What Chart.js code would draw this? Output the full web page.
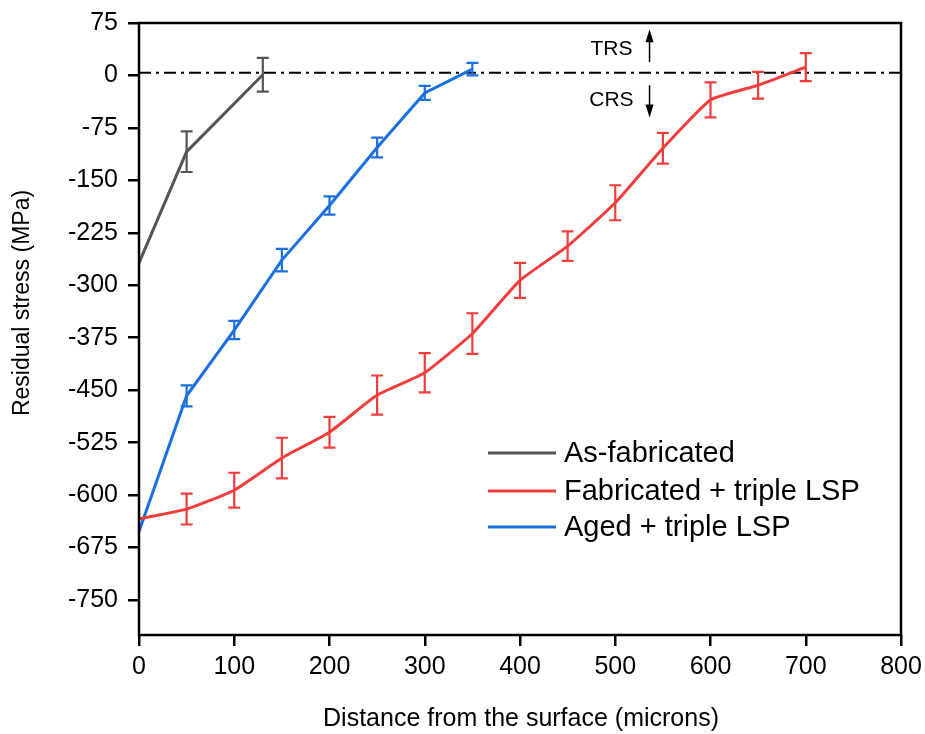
<!DOCTYPE html>
<html>
<head>
<meta charset="utf-8">
<script src="https://cdn.jsdelivr.net/npm/chart.js@4/dist/chart.umd.min.js"></script>
<style>
  html, body { margin: 0; background: #fff; }
  #wrap { width: 925px; height: 734px; }
</style>
</head>
<body>
<div id="wrap"><canvas id="c" width="925" height="734"></canvas></div>
<script>
// tick labels
const X_TICKS = [0, 100, 200, 300, 400, 500, 600, 700, 800]
const Y_TICKS = [75, 0, -75, -150, -225, -300, -375, -450, -525, -600, -675, -750]

// As-fabricated
const depthAsFab  = [0, 50, 130]
const stressAsFab = [-268, -109, 1]
const errAsFab    = [0, 29, 24]

// Fabricated + triple LSP
const depthFabLsp  = [0, 50, 100, 150, 200, 250, 300, 350, 400, 450, 500, 550, 600, 650, 700]
const stressFabLsp = [-634, -620, -593, -547, -510, -457, -425, -369, -293, -244, -182, -104, -35, -14, 12]
const errFabLsp    = [0, 22, 25, 29, 22, 28, 28, 29, 25, 21, 25, 22, 25, 19, 20]

// Aged + triple LSP
const depthAgedLsp  = [0, 50, 100, 150, 200, 250, 300, 350]
const stressAgedLsp = [-652, -458, -364, -264, -186, -103, -25, 9]
const errAgedLsp    = [0, 15, 13, 16, 13, 14, 10, 9]

const ZERO_LINE = 4

const FONT = 'Arial, "Liberation Sans", sans-serif'
const GRAY = '#555555'
const RED  = '#f23d3d'
const BLUE = '#1b6fe0'

const toPoints = (xs, ys) => xs.map((x, i) => ({ x, y: ys[i] }))

const series = [
  { label: 'As-fabricated',           color: GRAY, x: depthAsFab,   y: stressAsFab,   err: errAsFab,   tension: 0 },
  { label: 'Fabricated + triple LSP', color: RED,  x: depthFabLsp,  y: stressFabLsp,  err: errFabLsp,  tension: 0.15 },
  { label: 'Aged + triple LSP',       color: BLUE, x: depthAgedLsp, y: stressAgedLsp, err: errAgedLsp, tension: 0 },
]

// error bars, zero line, frame, annotations, titles, legend
const decor = {
  id: 'decor',
  beforeDatasetsDraw(chart) {
    const { ctx, chartArea: a, scales: { y } } = chart
    const yy = y.getPixelForValue(ZERO_LINE)
    ctx.save()
    ctx.strokeStyle = '#000'
    ctx.lineWidth = 2
    ctx.setLineDash([12, 5, 3, 5])
    ctx.beginPath()
    ctx.moveTo(a.left, yy)
    ctx.lineTo(a.right, yy)
    ctx.stroke()
    ctx.restore()
  },
  afterDatasetsDraw(chart) {
    const { ctx, scales: { x, y } } = chart
    ctx.save()
    series.forEach(s => {
      ctx.strokeStyle = s.color
      ctx.lineWidth = 2.2
      s.x.forEach((v, i) => {
        const e = s.err[i]
        if (!e) return
        const px = x.getPixelForValue(v)
        const top = y.getPixelForValue(s.y[i] + e)
        const bot = y.getPixelForValue(s.y[i] - e)
        ctx.beginPath()
        ctx.moveTo(px, top); ctx.lineTo(px, bot)
        ctx.moveTo(px - 6, top); ctx.lineTo(px + 6, top)
        ctx.moveTo(px - 6, bot); ctx.lineTo(px + 6, bot)
        ctx.stroke()
      })
    })
    ctx.restore()
  },
  afterDraw(chart) {
    const { ctx, chartArea: a, scales: { x, y } } = chart
    ctx.save()

    // frame
    ctx.strokeStyle = '#000'
    ctx.lineWidth = 2.5
    ctx.strokeRect(a.left, a.top, a.right - a.left, a.bottom - a.top)

    // TRS / CRS
    ctx.fillStyle = '#000'
    ctx.font = '21px ' + FONT
    ctx.textAlign = 'center'
    ctx.textBaseline = 'middle'
    ctx.fillText('TRS', x.getPixelForValue(496), y.getPixelForValue(37))
    ctx.fillText('CRS', x.getPixelForValue(496), y.getPixelForValue(-35))

    const arrow = (xv, fromV, toV) => {
      const ax = x.getPixelForValue(xv)
      const y0 = y.getPixelForValue(fromV)
      const y1 = y.getPixelForValue(toV)
      const dir = y1 < y0 ? 1 : -1
      ctx.lineWidth = 1.5
      ctx.beginPath()
      ctx.moveTo(ax, y0); ctx.lineTo(ax, y1 + dir * 10)
      ctx.stroke()
      ctx.beginPath()
      ctx.moveTo(ax, y1)
      ctx.lineTo(ax - 4, y1 + dir * 13)
      ctx.lineTo(ax + 4, y1 + dir * 13)
      ctx.closePath()
      ctx.fill()
    }
    arrow(536, 19, 66)
    arrow(536, -14, -60)

    // axis titles
    ctx.font = '25px ' + FONT
    ctx.fillText('Distance from the surface (microns)', (a.left + a.right) / 2 + 1, 719)
    ctx.save()
    ctx.translate(23, 303)
    ctx.rotate(-Math.PI / 2)
    ctx.font = '23px ' + FONT
    ctx.fillText('Residual stress (MPa)', 0, 0)
    ctx.restore()

    // legend
    ctx.font = '29px ' + FONT
    ctx.textAlign = 'left'
    const rows = [453, 491, 527]
    series.forEach((s, i) => {
      ctx.strokeStyle = s.color
      ctx.lineWidth = 3
      ctx.beginPath()
      ctx.moveTo(488, rows[i]); ctx.lineTo(556, rows[i])
      ctx.stroke()
      ctx.fillStyle = '#000'
      ctx.fillText(s.label, 564, rows[i] + 1)
    })
    ctx.restore()
  }
}

new Chart(document.getElementById('c'), {
  type: 'line',
  data: {
    datasets: series.map(s => ({
      label: s.label,
      data: toPoints(s.x, s.y),
      borderColor: s.color,
      backgroundColor: s.color,
      borderWidth: 3,
      pointRadius: 0,
      tension: s.tension,
      fill: false,
    })),
  },
  options: {
    responsive: false,
    animation: false,
    layout: { padding: { top: 23, right: 24, left: 0, bottom: 0 } },
    plugins: { legend: { display: false }, tooltip: { enabled: false } },
    scales: {
      x: {
        type: 'linear',
        min: 0, max: 800,
        afterBuildTicks: ax => { ax.ticks = X_TICKS.map(v => ({ value: v })) },
        afterFit: ax => { ax.height = 99; ax.paddingLeft = 0; ax.paddingRight = 0 },
        grid: { drawOnChartArea: false, drawTicks: true, tickLength: 11, color: '#000', lineWidth: 2.5 },
        border: { display: false },
        ticks: { color: '#000', font: { family: FONT, size: 25 }, padding: 6, maxRotation: 0 },
      },
      y: {
        type: 'linear',
        min: -800, max: 75,
        afterBuildTicks: ax => { ax.ticks = Y_TICKS.map(v => ({ value: v })) },
        afterFit: ax => { ax.width = 139; ax.paddingTop = 0; ax.paddingBottom = 0 },
        grid: { drawOnChartArea: false, drawTicks: true, tickLength: 11, color: '#000', lineWidth: 2.5 },
        border: { display: false },
        ticks: { color: '#000', font: { family: FONT, size: 25 }, padding: 10 },
      },
    },
  },
  plugins: [decor],
})
</script>
</body>
</html>
